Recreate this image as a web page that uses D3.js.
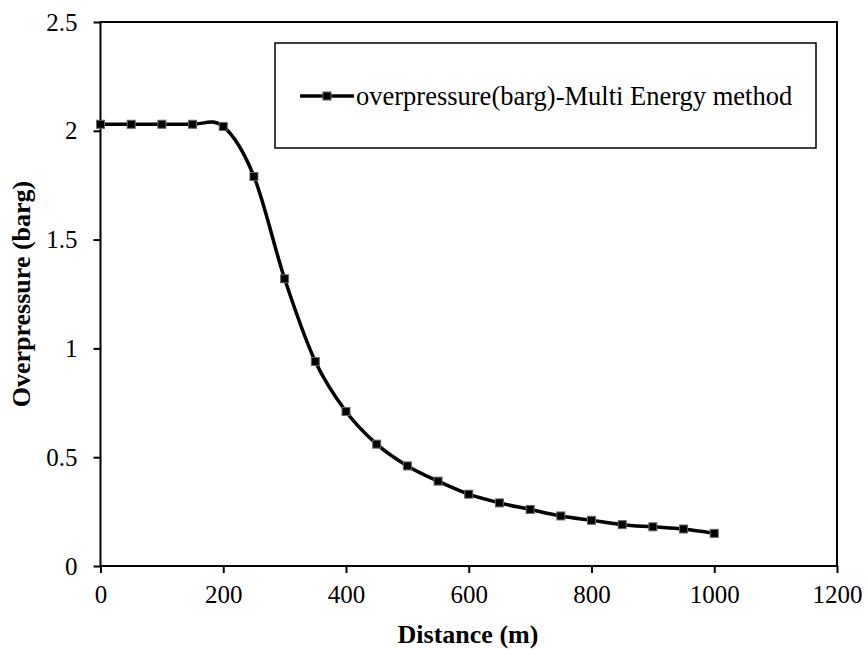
<!DOCTYPE html>
<html>
<head>
<meta charset="utf-8">
<script src="https://cdn.jsdelivr.net/npm/d3@7"></script>
<style>
  html, body { margin: 0; padding: 0; background: #fff; }
  svg { display: block; }
  svg text { font-family: "Times New Roman", "Liberation Serif", Times, "DejaVu Serif", serif !important; fill: #000; }
</style>
</head>
<body>
<svg id="chart" width="868" height="649"></svg>
<script>
const distance = [0, 50, 100, 150, 200, 250, 300, 350, 400, 450, 500, 550, 600, 650, 700, 750, 800, 850, 900, 950, 1000];
const overpressure = [2.03, 2.03, 2.03, 2.03, 2.02, 1.79, 1.32, 0.94, 0.71, 0.56, 0.46, 0.39, 0.33, 0.29, 0.26, 0.23, 0.21, 0.19, 0.18, 0.17, 0.15];
const xTicks = [0, 200, 400, 600, 800, 1000, 1200];
const yTicks = [0, 0.5, 1, 1.5, 2, 2.5];
const yTickLabels = ["0", "0.5", "1", "1.5", "2", "2.5"];
const seriesName = "overpressure(barg)-Multi Energy method";
const xTitle = "Distance (m)";
const yTitle = "Overpressure (barg)";

const svg = d3.select("#chart");
const L = 100.5, R = 837, T = 22, B = 566;

const x = d3.scaleLinear().domain([0, 1200]).range([L, R]);
const y = d3.scaleLinear().domain([0, 2.5]).range([B, T]);

const xAxis = d3.axisBottom(x).tickValues(xTicks).tickSize(7).tickPadding(12).tickFormat(d3.format("d"));
const yAxis = d3.axisLeft(y).tickValues(yTicks).tickSize(7).tickPadding(16).tickFormat((d, i) => yTickLabels[i]);

const gx = svg.append("g").attr("transform", `translate(0,${B})`).call(xAxis);
const gy = svg.append("g").attr("transform", `translate(${L},0)`).call(yAxis);
[gx, gy].forEach(g => {
  g.attr("font-family", null).attr("font-size", null);
  g.select(".domain").remove();
  g.selectAll(".tick line").attr("stroke", "#000").attr("stroke-width", 2);
  g.selectAll(".tick text").style("font-size", "25px").attr("fill", "#000");
});

svg.append("rect")
  .attr("x", L).attr("y", T).attr("width", R - L).attr("height", B - T)
  .attr("fill", "none").attr("stroke", "#000").attr("stroke-width", 2);

const pts = distance.map((d, i) => [d, overpressure[i]]);
const line = d3.line().x(d => x(d[0])).y(d => y(d[1])).curve(d3.curveCardinal.tension(0));
svg.append("path").datum(pts).attr("d", line)
  .attr("fill", "none").attr("stroke", "#000").attr("stroke-width", 3.5);

const ms = 8;
svg.append("g").selectAll("rect").data(pts).join("rect")
  .attr("x", d => x(d[0]) - ms / 2).attr("y", d => y(d[1]) - ms / 2)
  .attr("width", ms).attr("height", ms)
  .attr("fill", "#000").attr("stroke", "#666").attr("stroke-width", 1);

const lg = svg.append("g");
lg.append("rect").attr("x", 275).attr("y", 43).attr("width", 541).attr("height", 105)
  .attr("fill", "#fff").attr("stroke", "#000").attr("stroke-width", 1.5);
lg.append("line").attr("x1", 300).attr("x2", 354).attr("y1", 96).attr("y2", 96)
  .attr("stroke", "#000").attr("stroke-width", 3.5);
lg.append("rect").attr("x", 327 - ms / 2).attr("y", 96 - ms / 2).attr("width", ms).attr("height", ms)
  .attr("fill", "#000").attr("stroke", "#666").attr("stroke-width", 1);
lg.append("text").attr("x", 356).attr("y", 105).style("font-size", "26.5px").text(seriesName);

svg.append("text").attr("x", 468).attr("y", 643).attr("text-anchor", "middle")
  .style("font-size", "26px").style("font-weight", "bold").text(xTitle);
svg.append("text").attr("transform", `translate(30,${(T + B) / 2}) rotate(-90)`).attr("text-anchor", "middle")
  .style("font-size", "26px").style("font-weight", "bold").text(yTitle);
</script>
</body>
</html>
